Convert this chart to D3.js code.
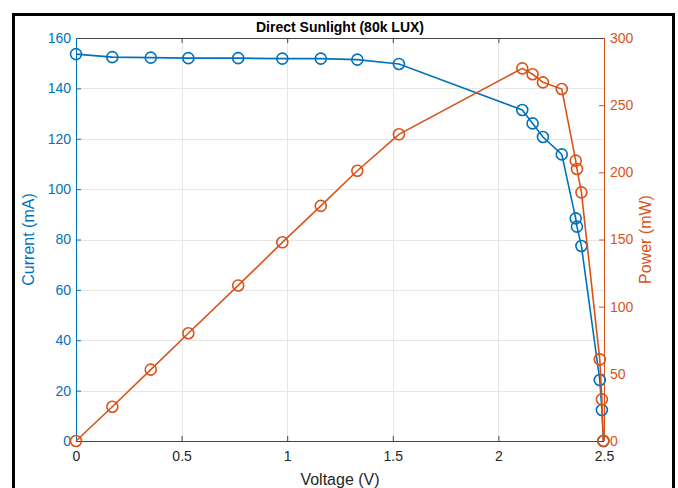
<!DOCTYPE html>
<html>
<head>
<meta charset="utf-8">
<script src="https://cdn.jsdelivr.net/npm/d3@7"></script>
<style>
  body { margin: 0; background: #fff; }
  svg { display: block; }
</style>
</head>
<body>
<div id="chart"></div>
<script>
// Data
var voltage = [0, 0.172, 0.354, 0.532, 0.768, 0.977, 1.159, 1.332, 1.529, 2.113, 2.162, 2.211, 2.30, 2.366, 2.372, 2.393, 2.48, 2.49, 2.497];
var current = [153.6, 152.4, 152.2, 152, 152, 151.8, 151.8, 151.4, 149.7, 131.4, 126.1, 120.7, 113.8, 88.4, 85.1, 77.4, 24.2, 12.3, 0];
var power = [0, 25.5, 53.1, 80.2, 115.8, 147.9, 175, 201.2, 228.3, 277.4, 273, 267, 262, 208.7, 202.5, 185.1, 60.8, 31, 0];
var xTicks = [0, 0.5, 1, 1.5, 2, 2.5];
var leftTicks = [0, 20, 40, 60, 80, 100, 120, 140, 160];
var rightTicks = [0, 50, 100, 150, 200, 250, 300];

var drawChart = function() {
    const width = 678, height = 488;
    const left = 76, right = 604, top = 38, bottom = 441;
    var blue = "#0072BD", orange = "#D95319";
    var fontFamily = "'Liberation Sans', Arial, sans-serif";

    var svg = d3.select("#chart").append("svg")
        .attr("width", width)
        .attr("height", height);

    // outer black frame
    svg.append("rect")
        .attr("x", 13.5).attr("y", 14.5)
        .attr("width", 660).attr("height", 480)
        .attr("fill", "none")
        .attr("stroke", "#000")
        .attr("stroke-width", 3);

    var x = d3.scaleLinear().domain([0, 2.5]).range([left, right]);
    var yL = d3.scaleLinear().domain([0, 160]).range([bottom, top]);
    var yR = d3.scaleLinear().domain([0, 300]).range([bottom, top]);

    // grid
    var grid = svg.append("g").attr("stroke", "#e6e6e6").attr("stroke-width", 1);
    grid.selectAll(".gx").data(xTicks.slice(1, -1)).join("line")
        .attr("x1", d => Math.round(x(d)) + 0.5).attr("x2", d => Math.round(x(d)) + 0.5)
        .attr("y1", top).attr("y2", bottom);
    grid.selectAll(".gy").data(leftTicks.slice(1, -1)).join("line")
        .attr("y1", d => Math.round(yL(d)) + 0.5).attr("y2", d => Math.round(yL(d)) + 0.5)
        .attr("x1", left).attr("x2", right);

    // axes (ticks inward, MATLAB style)
    var xAxis = svg.append("g")
        .attr("transform", "translate(0," + bottom + ")")
        .call(d3.axisBottom(x).tickValues(xTicks).tickSize(-5).tickPadding(10).tickFormat(d3.format("")));
    var xTop = svg.append("g")
        .attr("transform", "translate(0," + top + ")")
        .call(d3.axisTop(x).tickValues(xTicks).tickSize(-5).tickFormat(""));
    var yAxisL = svg.append("g")
        .attr("transform", "translate(" + left + ",0)")
        .call(d3.axisLeft(yL).tickValues(leftTicks).tickSize(-5).tickPadding(5));
    var yAxisR = svg.append("g")
        .attr("transform", "translate(" + right + ",0)")
        .call(d3.axisRight(yR).tickValues(rightTicks).tickSize(-5).tickPadding(6));

    [xAxis, xTop].forEach(function(a) {
        a.selectAll(".tick line").attr("stroke", "#444");
    });
    xAxis.selectAll(".tick text").attr("fill", "#262626");
    xTop.selectAll(".tick text").remove();
    yAxisL.selectAll(".tick line").attr("stroke", blue);
    yAxisL.selectAll(".tick text").attr("fill", blue);
    yAxisR.selectAll(".tick line").attr("stroke", orange);
    yAxisR.selectAll(".tick text").attr("fill", orange);
    [xAxis, xTop, yAxisL, yAxisR].forEach(function(a) {
        a.attr("font-family", fontFamily).attr("font-size", 14);
    });
    svg.selectAll(".domain").remove();

    // plain box lines
    svg.append("line").attr("x1", left).attr("x2", right).attr("y1", bottom + 0.5).attr("y2", bottom + 0.5).attr("stroke", "#444");
    svg.append("line").attr("x1", left).attr("x2", right).attr("y1", top + 0.5).attr("y2", top + 0.5).attr("stroke", "#444");
    svg.append("line").attr("x1", left + 0.5).attr("x2", left + 0.5).attr("y1", top).attr("y2", bottom).attr("stroke", blue);
    svg.append("line").attr("x1", right + 0.5).attr("x2", right + 0.5).attr("y1", top).attr("y2", bottom).attr("stroke", orange);

    var idx = d3.range(voltage.length);

    function series(vals, yScale, color) {
        var g = svg.append("g");
        g.append("path")
            .datum(idx)
            .attr("fill", "none")
            .attr("stroke", color)
            .attr("stroke-width", 1.6)
            .attr("d", d3.line().x(i => x(voltage[i])).y(i => yScale(vals[i])));
        g.selectAll("circle").data(idx).join("circle")
            .attr("cx", i => x(voltage[i]))
            .attr("cy", i => yScale(vals[i]))
            .attr("r", 5.5)
            .attr("fill", "none")
            .attr("stroke", color)
            .attr("stroke-width", 1.6);
    }
    series(current, yL, blue);
    series(power, yR, orange);

    // title and labels
    svg.append("text")
        .attr("x", 340).attr("y", 32)
        .attr("text-anchor", "middle")
        .attr("font-family", fontFamily).attr("font-size", 14).attr("font-weight", "bold")
        .attr("fill", "#000")
        .text("Direct Sunlight (80k LUX)");
    svg.append("text")
        .attr("x", 340).attr("y", 485)
        .attr("text-anchor", "middle")
        .attr("font-family", fontFamily).attr("font-size", 16)
        .attr("fill", "#262626")
        .text("Voltage (V)");
    svg.append("text")
        .attr("transform", "translate(34," + ((top + bottom) / 2) + ") rotate(-90)")
        .attr("text-anchor", "middle")
        .attr("font-family", fontFamily).attr("font-size", 16)
        .attr("fill", blue)
        .text("Current (mA)");
    svg.append("text")
        .attr("transform", "translate(651," + ((top + bottom) / 2) + ") rotate(-90)")
        .attr("text-anchor", "middle")
        .attr("font-family", fontFamily).attr("font-size", 16)
        .attr("fill", orange)
        .text("Power (mW)");
};

window.addEventListener("load", drawChart);
</script>
</body>
</html>
